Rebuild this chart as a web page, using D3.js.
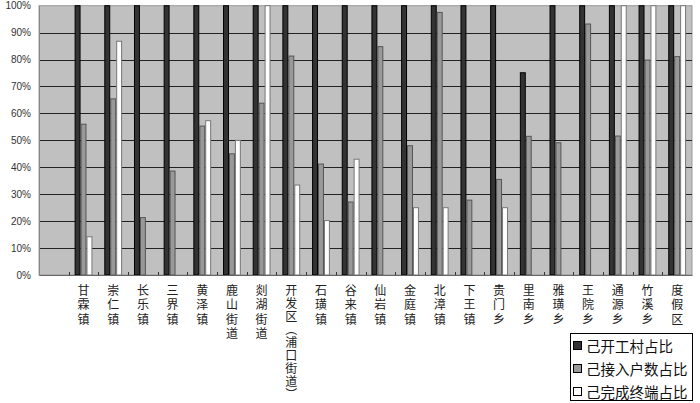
<!DOCTYPE html>
<html><head><meta charset="utf-8">
<script src="https://cdn.jsdelivr.net/npm/d3@7"></script>
<style>body{margin:0;background:#fff}svg{display:block}</style>
</head><body>
<script>
const categories = ["甘霖镇","崇仁镇","长乐镇","三界镇","黄泽镇","鹿山街道","剡湖街道","开发区（浦口街道）","石璜镇","谷来镇","仙岩镇","金庭镇","北漳镇","下王镇","贵门乡","里南乡","雅璜乡","王院乡","通源乡","竹溪乡","度假区"];
const startedVillages = [100,100,100,100,100,100,100,100,100,100,100,100,100,100,100,75.1,100,100,100,100,100];
const connectedHouseholds = [56,65.4,21.3,38.6,55.3,45,63.8,81.3,41.2,27.1,84.8,48,97.5,27.8,35.5,51.5,49.1,93.2,51.6,79.8,81.1];
const finishedTerminals = [14.2,86.8,0,0,57.3,50,100,33.4,20.2,43,0,25,25,0,25,0,0,0,100,100,100];
const seriesNames = ["己开工村占比","己接入户数占比","己完成终端占比"];
const yTicks = [0,10,20,30,40,50,60,70,80,90,100];

const W=700,H=403;
const m={left:39,right:692,top:5.7,bottom:275};
const svg=d3.select("body").append("svg").attr("width",W).attr("height",H);
const domain=[""].concat(categories);
const x=d3.scaleBand().domain(domain).range([m.left,m.right]).padding(0);
const y=d3.scaleLinear().domain([0,100]).range([m.bottom,m.top]);
const series=[
  {name:seriesNames[0],values:startedVillages,fill:"#333333",stroke:"#000"},
  {name:seriesNames[1],values:connectedHouseholds,fill:"#999999",stroke:"#555"},
  {name:seriesNames[2],values:finishedTerminals,fill:"#ffffff",stroke:"#777"}
];
const bw=x.bandwidth()*0.2;
const xs=d3.scaleBand().domain(d3.range(3)).range([0,bw*3]);

svg.append("rect").attr("x",m.left).attr("y",m.top).attr("width",m.right-m.left).attr("height",m.bottom-m.top)
  .attr("fill","#c0c0c0").attr("stroke","#999").attr("stroke-width",1);
svg.append("g").selectAll("line").data(yTicks.filter(t=>t>0&&t<100)).join("line")
  .attr("x1",m.left).attr("x2",m.right).attr("y1",d=>Math.round(y(d))+0.5).attr("y2",d=>Math.round(y(d))+0.5)
  .attr("stroke","#222").attr("stroke-width",1);
const yAxis=d3.axisLeft(y).tickValues(yTicks).tickFormat(d=>d+"%").tickSize(0).tickPadding(8);
const gy=svg.append("g").attr("transform",`translate(${m.left},0)`).call(yAxis);
gy.select(".domain").attr("stroke","#888");
gy.selectAll("text").attr("font-family","Liberation Sans, Arial, sans-serif").attr("font-size",10).attr("fill","#333");

series.forEach((s,i)=>{
  svg.append("g").selectAll("rect").data(categories.map((c,j)=>({c,v:s.values[j]})).filter(d=>d.v>0)).join("rect")
    .attr("x",d=>x(d.c)+(x.bandwidth()-bw*3)/2+xs(i)+0.5)
    .attr("y",d=>y(d.v))
    .attr("width",bw-1)
    .attr("height",d=>y(0)-y(d.v))
    .attr("fill",s.fill).attr("stroke",s.stroke).attr("stroke-width",1);
});

const xAxis=d3.axisBottom(x).tickSize(0).tickFormat("");
const gx=svg.append("g").attr("transform",`translate(0,${m.bottom})`).call(xAxis);
gx.select(".domain").attr("stroke","#666");
gx.selectAll(".tick").remove();
svg.append("g").selectAll("line").data(categories).join("line")
  .attr("x1",d=>Math.round(x(d))+0.5).attr("x2",d=>Math.round(x(d))+0.5)
  .attr("y1",m.bottom-3).attr("y2",m.bottom).attr("stroke","#333");

// vertical category labels
const lab=svg.append("g").attr("font-family","'Noto Sans CJK SC', sans-serif").attr("font-size",12).attr("fill","#222");
lab.selectAll("text").data(categories).join("text")
  .attr("x",d=>x(d)+x.bandwidth()/2)
  .attr("y",284)
  .style("writing-mode","vertical-rl")
  .style("letter-spacing",d=>d.length>6?"1px":"2.5px")
  .text(d=>d);

const lg=svg.append("g");
lg.append("rect").attr("x",570.5).attr("y",333.5).attr("width",122).attr("height",67).attr("fill","#fff").attr("stroke","#000");
series.forEach((s,i)=>{
  const cy=345.5+i*23;
  lg.append("rect").attr("x",573.5).attr("y",cy-4).attr("width",8).attr("height",8).attr("fill",s.fill).attr("stroke","#000");
  lg.append("text").attr("x",586).attr("y",cy).attr("dominant-baseline","central")
    .attr("font-family","'Noto Sans CJK SC', sans-serif").attr("font-size",14.5).attr("fill","#111").text(s.name);
});
</script>
</body></html>
